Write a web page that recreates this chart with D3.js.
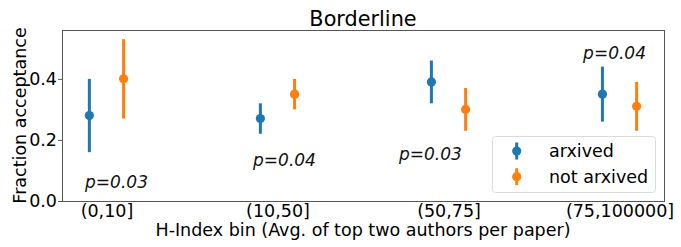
<!DOCTYPE html>
<html>
<head>
<meta charset="utf-8">
<script src="https://cdn.jsdelivr.net/npm/d3@7"></script>
<style>
  body { margin: 0; background: #fff; }
  text { font-family: "DejaVu Sans", sans-serif; }
  .tick text { font-size: 17.5px; fill: #000; }
</style>
</head>
<body>
<svg id="chart"></svg>
<script>
var categories = ["(0,10]", "(10,50]", "(50,75]", "(75,100000]"];

var arxivedMean = [0.28, 0.27, 0.39, 0.35];
var arxivedLow  = [0.16, 0.22, 0.32, 0.26];
var arxivedHigh = [0.40, 0.32, 0.46, 0.44];

var notArxivedMean = [0.40, 0.35, 0.30, 0.31];
var notArxivedLow  = [0.27, 0.30, 0.23, 0.23];
var notArxivedHigh = [0.53, 0.40, 0.37, 0.39];

var pLabels = ["p=0.03", "p=0.04", "p=0.03", "p=0.04"];
var pX = [-0.125, 0.857, 1.71, 2.787];
var pY = [0.044, 0.114, 0.134, 0.466];

var yTicks = [0.0, 0.2, 0.4];

var margin = {top: 30, right: 17, bottom: 46, left: 62},
    width = 681 - margin.left - margin.right,
    height = 247 - margin.top - margin.bottom;

var svg = d3.select("#chart")
    .attr("width", width + margin.left + margin.right)
    .attr("height", height + margin.top + margin.bottom)
    .append("g")
    .attr("transform", "translate(" + margin.left + "," + margin.top + ")");

var x = d3.scaleLinear().domain([-0.26, 3.26]).range([0, width]);
var y = d3.scaleLinear().domain([0, 0.56]).range([height, 0]);

var series = [
    {name: "arxived", color: "#1f77b4", offset: -0.1, mean: arxivedMean, low: arxivedLow, high: arxivedHigh},
    {name: "not arxived", color: "#ff7f0e", offset: 0.1, mean: notArxivedMean, low: notArxivedLow, high: notArxivedHigh}
];

// axes
var yAxis = svg.append("g")
    .call(d3.axisLeft(y).tickValues(yTicks).tickFormat(d3.format(".1f")).tickSizeInner(4).tickSizeOuter(0).tickPadding(1));
yAxis.select(".domain").remove();
yAxis.selectAll(".tick line").attr("stroke", "#555");

var xAxis = svg.append("g")
    .attr("transform", "translate(0," + height + ")")
    .call(d3.axisBottom(x).tickValues([0, 1, 2, 3]).tickFormat(function(d) { return categories[d]; }).tickSize(0).tickPadding(4));
xAxis.select(".domain").remove();

// frame
svg.append("rect")
    .attr("x", 0.5)
    .attr("y", 0.5)
    .attr("width", width)
    .attr("height", height)
    .attr("fill", "none")
    .attr("stroke", "#555")
    .attr("stroke-width", 1);

// error bars and points
series.forEach(function(s) {
    var g = svg.append("g");
    g.selectAll("line")
        .data(categories)
        .enter().append("line")
        .attr("x1", function(d, i) { return x(i + s.offset); })
        .attr("x2", function(d, i) { return x(i + s.offset); })
        .attr("y1", function(d, i) { return y(s.low[i]); })
        .attr("y2", function(d, i) { return y(s.high[i]); })
        .attr("stroke", s.color)
        .attr("stroke-width", 3);
    g.selectAll("circle")
        .data(categories)
        .enter().append("circle")
        .attr("cx", function(d, i) { return x(i + s.offset); })
        .attr("cy", function(d, i) { return y(s.mean[i]); })
        .attr("r", 4.6)
        .attr("fill", s.color);
});

// p-value annotations
svg.selectAll(".pval")
    .data(pLabels)
    .enter().append("text")
    .attr("class", "pval")
    .attr("x", function(d, i) { return x(pX[i]); })
    .attr("y", function(d, i) { return y(pY[i]); })
    .attr("font-size", "17px")
    .attr("font-style", "italic")
    .attr("fill", "#111")
    .text(function(d) { return d; });

// legend
var legend = svg.append("g")
    .attr("transform", "translate(" + (492 - margin.left) + "," + (136 - margin.top) + ")");
legend.append("rect")
    .attr("x", 0.5)
    .attr("y", 0.5)
    .attr("width", 163)
    .attr("height", 56)
    .attr("rx", 3)
    .attr("fill", "#fff")
    .attr("fill-opacity", 0.8)
    .attr("stroke", "#dcdcdc");
series.forEach(function(s, i) {
    var cy = 15 + i * 25.7;
    legend.append("line")
        .attr("x1", 24.7).attr("x2", 24.7)
        .attr("y1", cy - 8.5).attr("y2", cy + 8.5)
        .attr("stroke", s.color)
        .attr("stroke-width", 3);
    legend.append("circle")
        .attr("cx", 24.7)
        .attr("cy", cy)
        .attr("r", 4.6)
        .attr("fill", s.color);
    legend.append("text")
        .attr("x", 57)
        .attr("y", cy + 6)
        .attr("font-size", "17.5px")
        .text(s.name);
});

// title and labels
svg.append("text")
    .attr("x", width / 2)
    .attr("y", -4)
    .attr("text-anchor", "middle")
    .attr("font-size", "20.8px")
    .text("Borderline");

svg.append("text")
    .attr("x", width / 2)
    .attr("y", height + 35)
    .attr("text-anchor", "middle")
    .attr("font-size", "17.5px")
    .text("H-Index bin (Avg. of top two authors per paper)");

svg.append("text")
    .attr("transform", "translate(" + (26 - margin.left) + "," + (height / 2) + ") rotate(-90)")
    .attr("text-anchor", "middle")
    .attr("font-size", "17.5px")
    .text("Fraction acceptance");
</script>
</body>
</html>
